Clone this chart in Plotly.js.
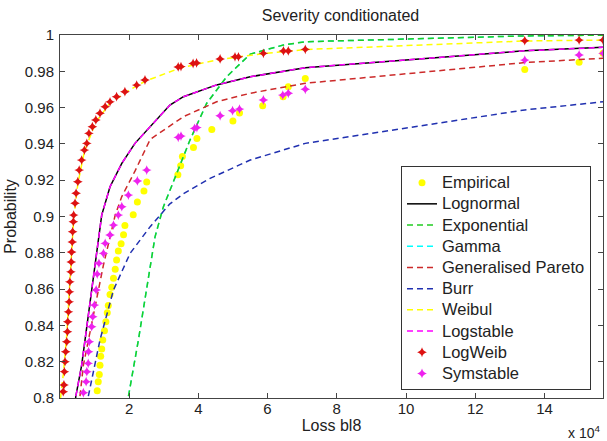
<!DOCTYPE html>
<html><head><meta charset="utf-8">
<script src="https://cdn.plot.ly/plotly-3.0.1.min.js"></script>
<style>html,body{margin:0;padding:0;background:#fff}#chart{width:607px;height:441px}</style>
</head><body><div id="chart"></div>
<script>
// x values in units of 10^4
const empX = [1.08,1.11,1.14,1.16,1.18,1.21,1.24,1.29,1.33,1.37,1.40,1.45,1.50,1.55,1.60,1.64,1.69,1.77,1.84,1.88,2.12,2.24,2.43,2.51,3.41,3.49,3.54,3.86,3.96,4.39,5.00,5.19,5.86,6.45,6.60,7.09,13.43,15.00,15.69];
const empY = [0.804,0.809,0.813,0.818,0.823,0.827,0.832,0.837,0.842,0.847,0.851,0.857,0.861,0.866,0.871,0.876,0.881,0.885,0.890,0.895,0.901,0.908,0.914,0.919,0.923,0.928,0.933,0.938,0.943,0.948,0.9526,0.957,0.961,0.966,0.9715,0.976,0.981,0.985,0.990];

const lognX = [0.42,0.46,0.63,0.82,1.02,1.21,1.45,1.79,2.17,2.66,3.18,3.57,4.53,5.50,7.09,13.43,15.69];
const lognY = [0.790,0.8007,0.818,0.8457,0.8733,0.9008,0.9164,0.9293,0.9403,0.9504,0.9614,0.966,0.9725,0.977,0.982,0.9913,0.9932];

const expoX = [1.95,1.98,2.27,2.51,2.75,2.99,3.38,3.76,4.24,4.82,5.50,6.46,7.09,13.43,15.69];
const expoY = [0.790,0.8007,0.832,0.8613,0.8888,0.9053,0.9237,0.9421,0.9623,0.977,0.9895,0.9945,0.9963,0.9995,0.9999];

const gammaX = expoX;
const gammaY = expoY;

const gpX = [0.55,0.58,0.68,0.97,1.26,1.60,1.79,2.17,2.61,3.57,4.53,5.50,7.09,13.43,15.69];
const gpY = [0.790,0.8007,0.818,0.8457,0.8733,0.9008,0.911,0.925,0.9425,0.955,0.9632,0.9679,0.9734,0.9848,0.9872];

const burrX = [0.79,0.82,1.16,1.55,2.03,2.61,3.18,3.57,4.34,5.50,7.09,13.43,15.69];
const burrY = [0.790,0.8007,0.832,0.8595,0.8797,0.8944,0.907,0.9125,0.921,0.9311,0.9403,0.9587,0.9632];

const weibX = [0.02,0.10,0.20,0.30,0.40,0.52,0.71,1.04,1.45,2.00,2.46,3.50,4.63,5.88,7.09,13.43,15.69];
const weibY = [0.800,0.813,0.835,0.866,0.899,0.918,0.936,0.952,0.9625,0.9695,0.9745,0.982,0.9866,0.9897,0.992,0.9967,0.9972];

const lstabX = lognX;
const lstabY = lognY;

const lwX = [0.10,0.12,0.13,0.15,0.17,0.20,0.22,0.23,0.25,0.27,0.28,0.29,0.32,0.33,0.34,0.36,0.37,0.39,0.40,0.44,0.47,0.52,0.56,0.63,0.71,0.78,0.84,0.94,1.04,1.16,1.31,1.45,1.64,1.88,2.22,2.46,3.42,3.50,3.85,3.95,4.63,5.06,5.16,5.88,6.46,6.60,7.09,13.43,15.00,15.69];
const lwY = [0.8035,0.8072,0.8145,0.820,0.8255,0.831,0.8365,0.842,0.8475,0.853,0.8585,0.864,0.8695,0.875,0.8805,0.886,0.8916,0.8971,0.9008,0.9073,0.9128,0.9192,0.9256,0.9311,0.9366,0.9403,0.9458,0.9495,0.9532,0.9569,0.9605,0.9632,0.966,0.9688,0.9724,0.9752,0.9824,0.9826,0.9843,0.9846,0.9868,0.988,0.988,0.9899,0.9912,0.9912,0.9921,0.9969,0.9972,0.9972];

const ssX = [0.68,0.76,0.78,0.82,0.83,0.85,0.92,0.95,1.00,1.05,1.08,1.13,1.26,1.31,1.45,1.55,1.69,1.79,1.98,2.24,2.51,3.42,3.50,3.89,3.96,4.63,4.99,5.19,5.88,6.44,6.60,7.09,13.43,15.00,15.69];
const ssY = [0.8029,0.809,0.8145,0.8191,0.8255,0.831,0.8393,0.8448,0.8512,0.8595,0.8683,0.8742,0.8797,0.8852,0.8898,0.8953,0.9008,0.9054,0.9118,0.9196,0.9256,0.9436,0.9443,0.9486,0.949,0.9555,0.9583,0.9592,0.9642,0.9669,0.9679,0.9701,0.9862,0.989,0.9899];

const xTicks = [2,4,6,8,10,12,14];
const xTickText = ['2','4','6','8','10','12','14'];
const yTicks = [0.8,0.82,0.84,0.86,0.88,0.9,0.92,0.94,0.96,0.98,1];
const yTickText = ['0.8','0.82','0.84','0.86','0.88','0.9','0.92','0.94','0.96','0.98','1'];

const L = s => '<span style="font-size:16.5px">' + s + '</span>';
const dashed = '6px,4px';
const traces = [
  {name:L('Empirical'), x:empX, y:empY, mode:'markers', type:'scatter', marker:{color:'#ffff00', size:7, symbol:'circle'}},
  {name:L('Lognormal'), x:lognX, y:lognY, mode:'lines', type:'scatter', line:{color:'#000000', width:1.5}},
  {name:L('Gamma'), x:gammaX, y:gammaY, mode:'lines', type:'scatter', line:{color:'#00ffff', width:1.5, dash:dashed}, showlegend:false, legendgroup:'g'},
  {name:L('Exponential'), x:expoX, y:expoY, mode:'lines', type:'scatter', line:{color:'#22cc22', width:1.5, dash:dashed}},
  {name:L('Gamma'), x:[null], y:[null], mode:'lines', type:'scatter', line:{color:'#00ffff', width:1.5, dash:dashed}, legendgroup:'g'},
  {name:L('Generalised Pareto'), x:gpX, y:gpY, mode:'lines', type:'scatter', line:{color:'#cc2a2a', width:1.5, dash:dashed}},
  {name:L('Burr'), x:burrX, y:burrY, mode:'lines', type:'scatter', line:{color:'#2030b0', width:1.5, dash:dashed}},
  {name:L('Weibul'), x:weibX, y:weibY, mode:'lines', type:'scatter', line:{color:'#ffff00', width:1.5, dash:dashed}},
  {name:L('Logstable'), x:lstabX, y:lstabY, mode:'lines', type:'scatter', line:{color:'#ff00ff', width:1.5, dash:dashed}},
  {name:L('LogWeib'), x:lwX, y:lwY, mode:'markers', type:'scatter', marker:{color:'#dd1111', size:7, symbol:'star-diamond'}},
  {name:L('Symstable'), x:ssX, y:ssY, mode:'markers', type:'scatter', marker:{color:'#ee22ee', size:7, symbol:'star-diamond'}}
];

const fontFam = 'Liberation Sans, Arial, sans-serif';
const layout = {
  width:607, height:441,
  margin:{l:60, r:4, t:35, b:43},
  paper_bgcolor:'#ffffff', plot_bgcolor:'#ffffff',
  font:{family:fontFam, size:15, color:'#222222'},
  title:{text:'Severity conditionated', font:{family:fontFam, size:16, color:'#222222'}, x:0.561, xanchor:'center', y:0.965, yanchor:'middle'},
  xaxis:{range:[0.005,15.69], tickvals:xTicks, ticktext:xTickText, ticks:'inside', ticklen:5, tickcolor:'#444',
         showline:true, linecolor:'#444', linewidth:1, mirror:'ticks', showgrid:false, zeroline:false, ticklabelstandoff:-3,
         tickfont:{size:15, color:'#222'}, title:{text:'Loss bl8', font:{size:16, color:'#222'}, standoff:0}},
  yaxis:{range:[0.8,1], tickvals:yTicks, ticktext:yTickText, ticks:'inside', ticklen:5, tickcolor:'#444',
         showline:true, linecolor:'#444', linewidth:1, mirror:'ticks', showgrid:false, zeroline:false, ticklabelstandoff:2,
         tickfont:{size:15, color:'#222'}, title:{text:'Probability', font:{size:16, color:'#222'}, standoff:4}},
  legend:{x:0.628, y:0.639, xanchor:'left', yanchor:'top', bgcolor:'#ffffff', bordercolor:'#333', borderwidth:1,
          font:{family:fontFam, size:14, color:'#222'}, tracegroupgap:0, itemwidth:30},
  annotations:[{text:'x 10<sup>4</sup>', xref:'paper', yref:'paper', x:0.998, y:-0.095, xanchor:'right', yanchor:'middle', showarrow:false, font:{size:14, color:'#222'}}],
  showlegend:true
};
Plotly.newPlot('chart', traces, layout, {staticPlot:true});
</script></body></html>
